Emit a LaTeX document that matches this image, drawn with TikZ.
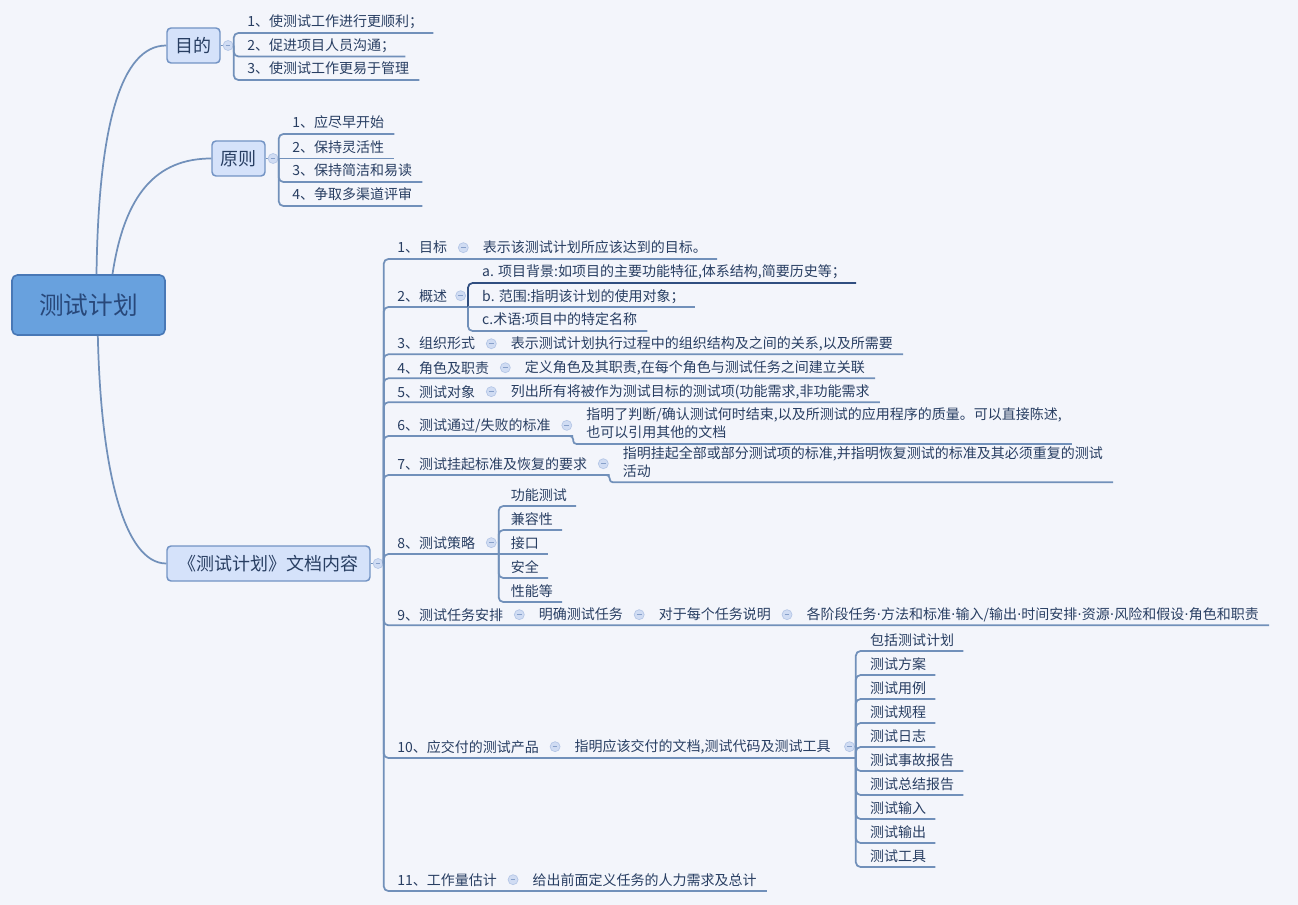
\documentclass[tikz,border=0pt]{standalone}
\usepackage{fontspec}
\setmainfont{Noto Sans CJK SC}
\newfontfamily\dotfont{DejaVu Sans}
\usetikzlibrary{positioning,calc}
\definecolor{canvas}{RGB}{243,245,251}
\definecolor{branchline}{RGB}{113,144,186}
\definecolor{branchdark}{RGB}{48,78,128}
\definecolor{leaftext}{RGB}{40,62,98}
\definecolor{rootfill}{RGB}{104,161,222}
\definecolor{rootdraw}{RGB}{72,120,182}
\definecolor{roottext}{RGB}{40,72,122}
\definecolor{topicfill}{RGB}{213,226,250}
\definecolor{topicdraw}{RGB}{114,147,196}
\definecolor{foldfill}{RGB}{208,220,243}
\definecolor{folddraw}{RGB}{180,198,230}
\definecolor{foldbar}{RGB}{135,160,202}
\newcommand{\leaffont}{\fontsize{10.5}{13.5}\selectfont}
\newcommand{\mdot}{{\dotfont ·}}

\begin{document}
\begin{tikzpicture}[x=0.75pt, y=-0.75pt,
  branch/.style={draw=branchline, line width=1.3pt, rounded corners=3.5pt},
  leaf/.style={font=\leaffont, text=leaftext, inner sep=0pt, anchor=base west},
  topic/.style={rectangle, rounded corners=3pt, draw=topicdraw, line width=1.1pt, fill=topicfill, text=leaftext, font=\fontsize{13.5}{16}\selectfont, minimum height=26.25pt, inner sep=0pt},
  rootbox/.style={rectangle, rounded corners=4pt, draw=rootdraw, line width=1.2pt, fill=rootfill, text=roottext, font=\fontsize{18.5}{22}\selectfont, minimum width=114.75pt, minimum height=45pt},
  fold/.style={circle, draw=folddraw, fill=foldfill, line width=0.5pt, minimum size=7.5pt, inner sep=0pt,
    path picture={\draw[foldbar, line width=0.8pt] ([xshift=2pt]path picture bounding box.west) -- ([xshift=-2pt]path picture bounding box.east);}}
]
\fill[canvas] (0,0) rectangle (1298,905);
\useasboundingbox (0,0) rectangle (1298,905);

% root and main topics
\node[rootbox] (root) at (88.5,305) {测试计划};
\node[topic, minimum width=39.75pt] (goal) at (193.5,45.5) {目的};
\node[topic, minimum width=39.75pt] (rule) at (238.5,158.5) {原则};
\node[topic, minimum width=152.25pt] (doc) at (268.5,563.5) {《测试计划》文档内容};

\draw[branch] ([xshift=6pt]root.north) .. controls +(2,-150) and +(-45,0) .. (goal.west);
\draw[branch] ([xshift=18pt]root.north) .. controls +(12,-80) and +(-55,0) .. (rule.west);
\draw[branch] ([xshift=7pt]root.south) .. controls +(3,135) and +(-42,0) .. (doc.west);

\coordinate (jgoal) at ($(goal.east)+(13,0)$);
\coordinate (jrule) at ($(rule.east)+(13,0)$);
\coordinate (jdoc) at ($(doc.east)+(13,0)$);
\draw[branch] (goal.east) -- (jgoal);
\draw[branch] (rule.east) -- (jrule);
\draw[branch] (doc.east) -- (jdoc);
\node[fold, right=1.5pt of goal] (fgoal) {};
\node[fold, right=1.5pt of rule] (frule) {};
\node[fold, right=1.5pt of doc] (fdoc) {};

% 目的
\node[leaf] (goal1) at (247,27) {1、使测试工作进行更顺利；};
\node[leaf] (goal2) at (247,50.5) {2、促进项目人员沟通；};
\node[leaf] (goal3) at (247,74) {3、使测试工作更易于管理};
\draw[branch] (jgoal) |- ($(goal1.base east)+(10,6)$);
\draw[branch] (jgoal) |- ($(goal2.base east)+(10,6)$);
\draw[branch] (jgoal) |- ($(goal3.base east)+(10,6)$);

% 原则
\node[leaf] (rule1) at (292,128) {1、应尽早开始};
\node[leaf] (rule2) at (292,152.5) {2、保持灵活性};
\node[leaf] (rule3) at (292,176) {3、保持简洁和易读};
\node[leaf] (rule4) at (292,200) {4、争取多渠道评审};
\draw[branch] (jrule) |- ($(rule1.base east)+(10,6)$);
\draw[branch] (jrule) -- ($(rule2.base east)+(10,6)$);
\draw[branch] (jrule) |- ($(rule3.base east)+(10,6)$);
\draw[branch] (jrule) |- ($(rule4.base east)+(10,6)$);

% 1
\node[leaf] (g1) at (397,253) {1、目标};
\node[fold, right=8pt of g1] (fg1) {};
\node[leaf, right=10.5pt of fg1] (g1a) {表示该测试计划所应该达到的目标。};
\draw[branch] (jdoc) |- ($(g1a.base east)+(10,6)$);

% 2
\node[leaf] (g2) at (397,301) {2、概述};
\node[fold, right=6pt of g2] (fg2) {};
\path (fg2.east |- 0,307) ++(2,0) coordinate (jg2);
\draw[branch] (jdoc) |- (jg2);
\node[leaf] (g2a) at ($(jg2 |- 0,277)+(14,0)$) {a. 项目背景:如项目的主要功能特征,体系结构,简要历史等；};
\node[leaf] (g2b) at ($(jg2 |- 0,301)+(14,0)$) {b. 范围:指明该计划的使用对象；};
\node[leaf] (g2c) at ($(jg2 |- 0,325)+(14,0)$) {c.术语:项目中的特定名称};
\draw[branch, draw=branchdark] (jg2) |- ($(g2a.base east)+(10,6)$);
\draw[branch] (jg2) -- ($(g2b.base east)+(10,6)$);
\draw[branch] (jg2) |- ($(g2c.base east)+(10,6)$);

% 3
\node[leaf] (g3) at (397,349) {3、组织形式};
\node[fold, right=8pt of g3] (fg3) {};
\node[leaf, right=10.5pt of fg3] (g3a) {表示测试计划执行过程中的组织结构及之间的关系,以及所需要};
\draw[branch] (jdoc) |- ($(g3a.base east)+(10,6)$);

% 4
\node[leaf] (g4) at (397,373) {4、角色及职责};
\node[fold, right=8pt of g4] (fg4) {};
\node[leaf, right=10.5pt of fg4] (g4a) {定义角色及其职责,在每个角色与测试任务之间建立关联};
\draw[branch] (jdoc) |- ($(g4a.base east)+(10,6)$);

% 5
\node[leaf] (g5) at (397,397) {5、测试对象};
\node[fold, right=8pt of g5] (fg5) {};
\node[leaf, right=10.5pt of fg5] (g5a) {列出所有将被作为测试目标的测试项(功能需求,非功能需求};
\draw[branch] (jdoc) |- ($(g5a.base east)+(10,6)$);

% 6
\node[leaf] (g6) at (397,430) {6、测试通过/失败的标准};
\node[fold, right=8pt of g6] (fg6) {};
\node[leaf, right=10.5pt of fg6] (g6a) {\begin{tabular}[b]{@{}l@{}}指明了判断/确认测试何时结束,以及所测试的应用程序的质量。可以直接陈述,\\也可以引用其他的文档\end{tabular}};
\path (fg6.east |- 0,436) ++(1,0) coordinate (jg6);
\draw[branch] (jdoc) |- (jg6);
\draw[branch, rounded corners=2.5pt] ([xshift=-6pt]jg6) -- (jg6) |- ($(g6a.base east)+(10,6)$);

% 7
\node[leaf] (g7) at (397,469) {7、测试挂起标准及恢复的要求};
\node[fold, right=8pt of g7] (fg7) {};
\node[leaf, right=10.5pt of fg7] (g7a) {\begin{tabular}[b]{@{}l@{}}指明挂起全部或部分测试项的标准,并指明恢复测试的标准及其必须重复的测试\\活动\end{tabular}};
\path (fg7.east |- 0,475) ++(1,0) coordinate (jg7);
\draw[branch] (jdoc) |- (jg7);
\draw[branch, rounded corners=2.5pt] ([xshift=-6pt]jg7) -- (jg7) |- ($(g7a.base east)+(10,6)$);

% 8
\node[leaf] (g8) at (397,548) {8、测试策略};
\node[fold, right=8pt of g8] (fg8) {};
\path (fg8.east |- 0,554) ++(2,0) coordinate (jg8);
\draw[branch] (jdoc) |- (jg8);
\node[leaf] (g8a) at ($(jg8 |- 0,500)+(12,0)$) {功能测试};
\node[leaf] (g8b) at ($(jg8 |- 0,524)+(12,0)$) {兼容性};
\node[leaf] (g8c) at ($(jg8 |- 0,548)+(12,0)$) {接口};
\node[leaf] (g8d) at ($(jg8 |- 0,572)+(12,0)$) {安全};
\node[leaf] (g8e) at ($(jg8 |- 0,596)+(12,0)$) {性能等};
\draw[branch] (jg8) |- ($(g8a.base east)+(9,6)$);
\draw[branch] (jg8) |- ($(g8b.base east)+(9,6)$);
\draw[branch] (jg8) -- ($(g8c.base east)+(9,6)$);
\draw[branch] (jg8) |- ($(g8d.base east)+(9,6)$);
\draw[branch] (jg8) |- ($(g8e.base east)+(9,6)$);

% 9
\node[leaf] (g9) at (397,620) {9、测试任务安排};
\node[fold, right=8pt of g9] (fg9) {};
\node[leaf, right=10.5pt of fg9] (g9a) {明确测试任务};
\node[fold, right=8pt of g9a] (fg9a) {};
\node[leaf, right=10.5pt of fg9a] (g9b) {对于每个任务说明};
\node[fold, right=8pt of g9b] (fg9b) {};
\node[leaf, right=10.5pt of fg9b] (g9c) {各阶段任务\mdot 方法和标准\mdot 输入/输出\mdot 时间安排\mdot 资源\mdot 风险和假设\mdot 角色和职责};
\draw[branch] (jdoc) |- ($(g9c.base east)+(10,6)$);

% 10
\node[leaf] (g10) at (397,752) {10、应交付的测试产品};
\node[fold, right=8pt of g10] (fg10) {};
\node[leaf, right=10.5pt of fg10] (g10a) {指明应该交付的文档,测试代码及测试工具};
\node[fold, right=10pt of g10a] (fg10a) {};
\path (fg10a.east |- 0,758) ++(1,0) coordinate (jg10);
\draw[branch] (jdoc) |- (jg10);
\node[leaf] (d1) at ($(jg10 |- 0,645)+(14,0)$) {包括测试计划};
\node[leaf] (d2) at ($(jg10 |- 0,669)+(14,0)$) {测试方案};
\node[leaf] (d3) at ($(jg10 |- 0,693)+(14,0)$) {测试用例};
\node[leaf] (d4) at ($(jg10 |- 0,717)+(14,0)$) {测试规程};
\node[leaf] (d5) at ($(jg10 |- 0,741)+(14,0)$) {测试日志};
\node[leaf] (d6) at ($(jg10 |- 0,765)+(14,0)$) {测试事故报告};
\node[leaf] (d7) at ($(jg10 |- 0,789)+(14,0)$) {测试总结报告};
\node[leaf] (d8) at ($(jg10 |- 0,813)+(14,0)$) {测试输入};
\node[leaf] (d9) at ($(jg10 |- 0,837)+(14,0)$) {测试输出};
\node[leaf] (d10) at ($(jg10 |- 0,861)+(14,0)$) {测试工具};
\draw[branch] (jg10) |- ($(d1.base east)+(9,6)$);
\draw[branch] (jg10) |- ($(d2.base east)+(9,6)$);
\draw[branch] (jg10) |- ($(d3.base east)+(9,6)$);
\draw[branch] (jg10) |- ($(d4.base east)+(9,6)$);
\draw[branch] (jg10) |- ($(d5.base east)+(9,6)$);
\draw[branch] (jg10) |- ($(d6.base east)+(9,6)$);
\draw[branch] (jg10) |- ($(d7.base east)+(9,6)$);
\draw[branch] (jg10) |- ($(d8.base east)+(9,6)$);
\draw[branch] (jg10) |- ($(d9.base east)+(9,6)$);
\draw[branch] (jg10) |- ($(d10.base east)+(9,6)$);

% 11
\node[leaf] (g11) at (397,885) {11、工作量估计};
\node[fold, right=8pt of g11] (fg11) {};
\node[leaf, right=10.5pt of fg11] (g11a) {给出前面定义任务的人力需求及总计};
\draw[branch] (jdoc) |- ($(g11a.base east)+(10,6)$);
\end{tikzpicture}
\end{document}
